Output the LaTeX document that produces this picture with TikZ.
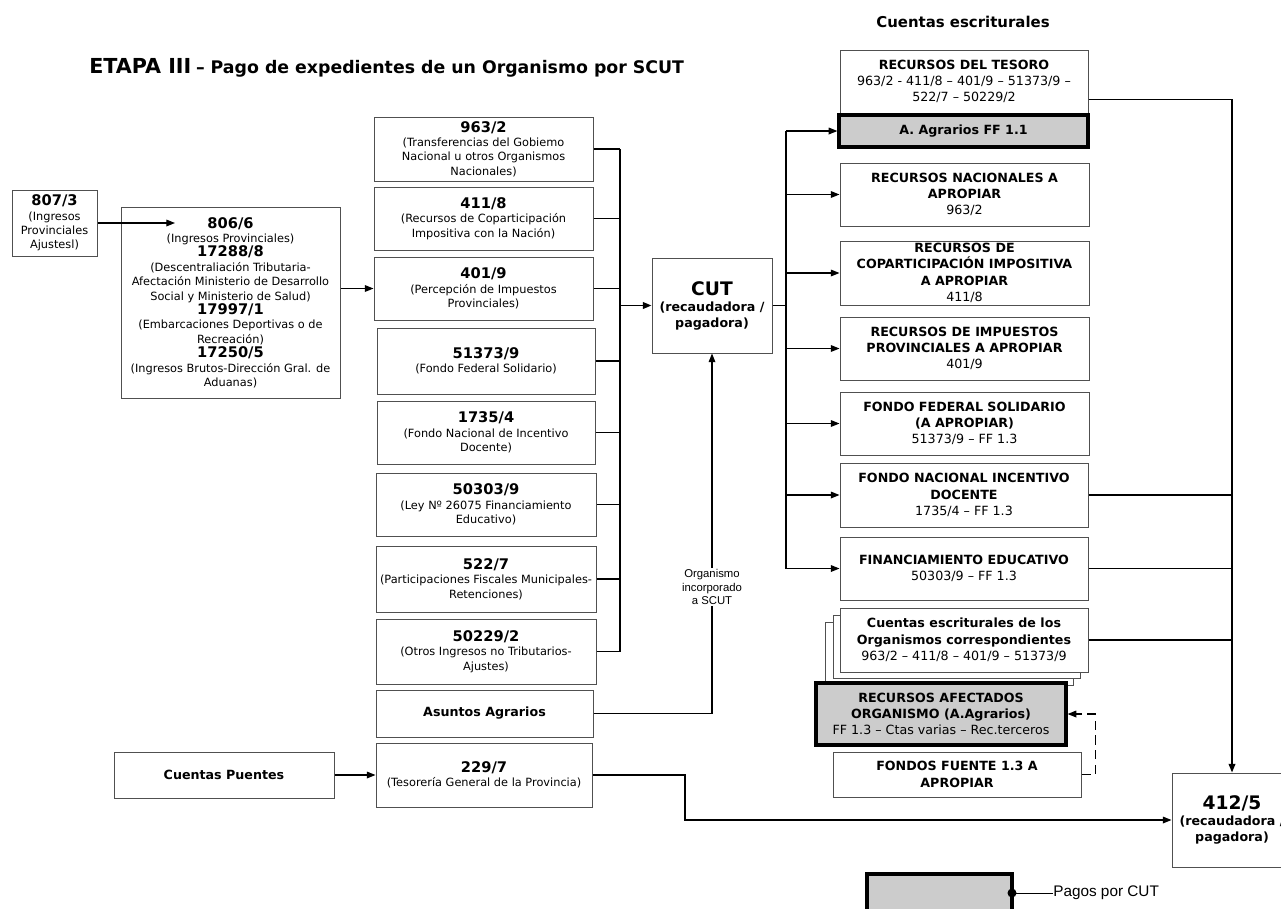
\documentclass[tikz,border=0pt]{standalone}
\usepackage{fontspec}
\setmainfont{DejaVu Sans}
\newfontfamily\arialf{Liberation Sans}
\usetikzlibrary{arrows.meta,calc}
\definecolor{boxc}{HTML}{505050}
\definecolor{grayc}{HTML}{CCCCCC}
\newcommand\Hnum[1]{{\fontsize{11}{13}\selectfont\bfseries #1}}
\newcommand\Hcap[1]{{\bfseries #1}}
\begin{document}
\begin{tikzpicture}[x=0.75pt,y=-0.75pt,
  bx/.style n args={4}{at={({(#1+#3)/2},{(#2+#4)/2})}, minimum width={(#3-#1)*0.75pt}, minimum height={(#4-#2)*0.75pt}},
  box/.style={draw=boxc, line width=0.75pt, fill=white, inner sep=0pt, align=center, anchor=center},
  mbox/.style={box, font=\fontsize{8.5}{10.8}\selectfont},
  rbox/.style={box, font=\fontsize{9.5}{12.2}\selectfont},
  gbox/.style={rbox, draw=black, line width=2.4pt, fill=grayc},
  conn/.style={line width=0.9pt, draw=black},
  arr/.style={conn, -{Triangle[length=6.5pt,width=5pt]}},
  bus/.style={line width=1.6pt, draw=black}]
\useasboundingbox (0,0) rectangle (1281,908);
\clip (0,0) rectangle (1281,908);
\fill[white] (0,0) rectangle (1281,908);

% titles
\node[anchor=west, font=\bfseries, inner sep=0pt] (title) at (89,68)
  {{\fontsize{15.5}{18}\selectfont ETAPA III} {\fontsize{13}{15}\selectfont -- Pago de expedientes de un Organismo por SCUT}};
\node[font=\fontsize{11.2}{13}\selectfont\bfseries] (ce) at (963,22) {Cuentas escriturales};

% left boxes
\node[mbox, bx={12}{190}{97}{256}] (t807) {\Hnum{807/3}\\(Ingresos\\Provinciales\\Ajustesl)};
\node[mbox, bx={121}{207}{340}{398}] (t806) {\Hnum{806/6}\\(Ingresos Provinciales)\\\Hnum{17288/8}\\(Descentraliación Tributaria-\\Afectación Ministerio de Desarrollo\\Social y Ministerio de Salud)\\\Hnum{17997/1}\\(Embarcaciones Deportivas o de\\Recreación)\\\Hnum{17250/5}\\(Ingresos Brutos-Dirección Gral. de\\Aduanas)};
\coordinate (a806) at (175,223);

% middle column
\node[mbox, bx={374}{117}{593}{181}] (m1) {\Hnum{963/2}\\(Transferencias del Gobiemo\\Nacional u otros Organismos\\Nacionales)};
\node[mbox, bx={374}{187}{593}{250}] (m2) {\Hnum{411/8}\\(Recursos de Coparticipación\\Impositiva con la Nación)};
\node[mbox, bx={374}{257}{593}{320}] (m3) {\Hnum{401/9}\\(Percepción de Impuestos\\Provinciales)};
\node[mbox, bx={377}{328}{595}{394}] (m4) {\Hnum{51373/9}\\(Fondo Federal Solidario)};
\node[mbox, bx={377}{401}{595}{464}] (m5) {\Hnum{1735/4}\\(Fondo Nacional de Incentivo\\Docente)};
\node[mbox, bx={376}{473}{596}{536}] (m6) {\Hnum{50303/9}\\(Ley Nº 26075 Financiamiento\\Educativo)};
\node[mbox, bx={376}{546}{596}{612}] (m7) {\Hnum{522/7}\\(Participaciones Fiscales Municipales-\\Retenciones)};
\node[mbox, bx={376}{619}{596}{684}] (m8) {\Hnum{50229/2}\\(Otros Ingresos no Tributarios-\\Ajustes)};
\node[mbox, bx={376}{690}{593}{737}] (asa) {{\fontsize{9.5}{12}\selectfont\bfseries Asuntos Agrarios}};
\node[mbox, bx={376}{743}{592}{807}] (t229) {\Hnum{229/7}\\(Tesorería General de la Provincia)};
\node[mbox, bx={114}{752}{334}{798}] (cp) {{\fontsize{9.5}{12}\selectfont\bfseries Cuentas Puentes}};

% CUT
\node[box, bx={652}{258}{772}{353}] (cut) {{\fontsize{14}{17}\selectfont\bfseries CUT}\\{\fontsize{9.5}{11.5}\selectfont\bfseries (recaudadora /}\\{\fontsize{9.5}{11.5}\selectfont\bfseries pagadora)}};

% right column
\node[rbox, bx={840}{50}{1088}{113}] (r0) {\Hcap{RECURSOS DEL TESORO}\\963/2 - 411/8 -- 401/9 -- 51373/9 --\\522/7 -- 50229/2};
\node[gbox, bx={839}{115}{1088}{147}] (ra) {\Hcap{A. Agrarios FF 1.1}};
\node[rbox, bx={840}{163}{1089}{226}] (r1) {\Hcap{RECURSOS NACIONALES A}\\\Hcap{APROPIAR}\\963/2};
\node[rbox, bx={840}{241}{1089}{305}] (r2) {\Hcap{RECURSOS DE}\\\Hcap{COPARTICIPACIÓN IMPOSITIVA}\\\Hcap{A APROPIAR}\\411/8};
\node[rbox, bx={840}{317}{1089}{380}] (r3) {\Hcap{RECURSOS DE IMPUESTOS}\\\Hcap{PROVINCIALES A APROPIAR}\\401/9};
\node[rbox, bx={840}{392}{1089}{455}] (r4) {\Hcap{FONDO FEDERAL SOLIDARIO}\\\Hcap{(A APROPIAR)}\\51373/9 -- FF 1.3};
\node[rbox, bx={840}{463}{1088}{527}] (r5) {\Hcap{FONDO NACIONAL INCENTIVO}\\\Hcap{DOCENTE}\\1735/4 -- FF 1.3};
\node[rbox, bx={840}{537}{1088}{600}] (r6) {\Hcap{FINANCIAMIENTO EDUCATIVO}\\50303/9 -- FF 1.3};
\node[rbox, bx={825}{622}{1073}{685}] (r7c) {};
\node[rbox, bx={833}{615}{1080}{678}] (r7b) {};
\node[rbox, bx={840}{608}{1088}{672}] (r7) {\Hcap{Cuentas escriturales de los}\\\Hcap{Organismos correspondientes}\\963/2 -- 411/8 -- 401/9 -- 51373/9};
\node[gbox, bx={816}{683}{1066}{745}] (raf) {\Hcap{RECURSOS AFECTADOS}\\\Hcap{ORGANISMO (A.Agrarios)}\\FF 1.3 -- Ctas varias -- Rec.terceros};
\node[rbox, bx={833}{752}{1081}{797}] (ff) {\Hcap{FONDOS FUENTE 1.3 A}\\\Hcap{APROPIAR}};
\node[box, bx={1172}{773}{1292}{867}] (b412) {{\fontsize{14}{17}\selectfont\bfseries 412/5}\\{\fontsize{9.5}{11.5}\selectfont\bfseries (recaudadora /}\\{\fontsize{9.5}{11.5}\selectfont\bfseries pagadora)}};

% legend
\node[gbox, bx={867}{874}{1012}{935}] (leg) {};
\coordinate (legdot) at (1012,893);
\node[anchor=west, inner sep=0pt, font=\arialf\fontsize{11.5}{13}\selectfont] (legt) at (1053,893) {Pagos por CUT};

% connectors left
\draw[arr] (t807.east) -- (a806);
\draw[arr] (t806.east |- m3.west) -- (m3.west);
\coordinate (busT) at (620,149);
\coordinate (busB) at (620,651.5);
\foreach \m in {m1,m2,m3,m4,m5,m6,m7,m8} \draw[conn] (\m.east) -- (\m.east -| busT);
\draw[bus] (busT) -- (busB);
\draw[arr, line width=1.3pt] (cut.west -| busT) -- (cut.west);

% organismo incorporado
\draw[arr] (asa.east) -| (cut.south);
\node[fill=white, inner sep=1pt, align=center, font=\arialf\fontsize{8.5}{10}\selectfont] (lbl) at (712,587) {Organismo\\incorporado\\a SCUT};

% right bus
\coordinate (rbT) at (786,130.5);
\coordinate (rbB) at (786,568.5);
\draw[conn, line width=1.2pt] (cut.east) -- (cut.east -| rbT);
\draw[conn, line width=1.2pt] (rbT) -- (rbB);
\foreach \r in {ra,r1,r2,r3,r4,r5,r6} \draw[arr] (\r.west -| rbT) -- (\r.west);

% to 412/5
\coordinate (rvT) at (1232,99);
\draw[arr, line width=1.2pt] ([yshift=10.5pt]r0.south east) -| (b412.north);
\foreach \r in {r5,r6,r7} \draw[conn] (\r.east) -- (\r.east -| rvT);
\draw[conn, dash pattern=on 7pt off 4pt, -{Triangle[length=6.5pt,width=5pt]}] (ff.east) -- ++(14,0) |- (raf.east);

% bottom
\draw[arr] (cp.east) -- (t229.west);
\coordinate (tk) at (685,775);
\draw[arr] (t229.east) -- (tk) |- (b412.west);

% legend connector
\fill (legdot) circle (4.5);
\draw[line width=0.6pt] (legdot) -- (legt.west);
\end{tikzpicture}
\end{document}
